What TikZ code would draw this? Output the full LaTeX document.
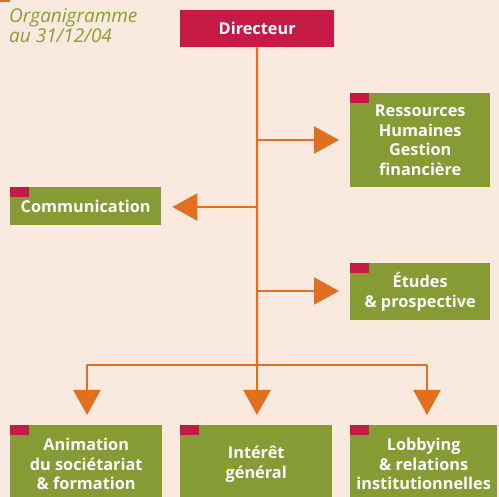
\documentclass[tikz,border=0pt]{standalone}
\usepackage{fontspec}
\setmainfont{Open Sans}
\usetikzlibrary{arrows.meta,calc}
\definecolor{bgc}{HTML}{FAE9DE}
\definecolor{crim}{HTML}{C41A45}
\definecolor{olive}{HTML}{869B33}
\definecolor{oran}{HTML}{E07020}
\definecolor{titc}{HTML}{8A9E35}
\begin{document}
\begin{tikzpicture}[x=1pt,y=-1pt,
  box/.style={fill=olive,text=white,font=\fontsize{16.3}{19.6}\selectfont\bfseries,align=center,anchor=north west,inner sep=0pt},
  conn/.style={draw=oran,line width=2pt},
  arr/.style={conn,-{Triangle[width=27pt,length=25pt]},shorten >=11pt},
  tabm/.style={fill=crim}]
\fill[bgc] (0,0) rectangle (499,497);
\useasboundingbox (0,0) rectangle (499,497);
\clip (0,0) rectangle (499,497);
\fill[oran] (0,0) rectangle (10,2);
\node[anchor=north west,text=titc,font=\fontsize{19}{20}\selectfont\itshape,align=left,inner sep=0pt] (title) at (9,8) {Organigramme\\au 31/12/04};
\node[fill=crim,text=white,font=\fontsize{16.3}{19}\selectfont\bfseries,minimum width=154pt,minimum height=37pt,anchor=north west,inner sep=0pt] (dir) at (180,10) {Directeur};
\node[box,minimum width=140pt,minimum height=94pt] (rh) at (350,93) {Ressources\\Humaines\\Gestion\\financière};
\node[box,minimum width=151pt,minimum height=38pt] (com) at (10,187) {Communication};
\node[box,minimum width=140pt,minimum height=57pt] (etu) at (350,263) {Études\\\& prospective};
\node[box,minimum width=152pt,minimum height=78pt] (ani) at (10,425) {Animation\\du sociétariat\\\& formation};
\node[box,minimum width=152pt,minimum height=78pt] (int) at (180,425) {Intérêt\\général};
\node[box,minimum width=147pt,minimum height=78pt] (lob) at (350,425) {Lobbying\\\& relations\\institutionnelles};
\foreach \n in {rh,com,etu,ani,int,lob}{\fill[tabm] (\n.north west) rectangle ++(19,10);}
\coordinate (jrh) at (257,140);
\coordinate (jcom) at (257,207);
\coordinate (jetu) at (257,291);
\coordinate (jm) at (257,365);
\coordinate (jl) at (87,365);
\coordinate (jr) at (427,365);
\draw[conn] (dir.south) -- (jm);
\draw[conn] (jl) -- (jr);
\draw[arr] (jrh) -- (jrh -| rh.west);
\draw[arr] (jcom) -- (jcom -| com.east);
\draw[arr] (jetu) -- (jetu -| etu.west);
\draw[arr,shorten >=10pt] (jl) -- (jl |- ani.north);
\draw[arr,shorten >=10pt] (jm) -- (jm |- int.north);
\draw[arr,shorten >=10pt] (jr) -- (jr |- lob.north);
\end{tikzpicture}
\end{document}
